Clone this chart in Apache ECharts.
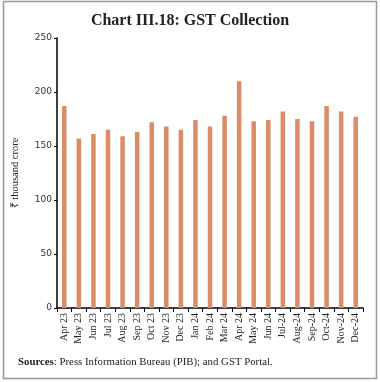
<!DOCTYPE html>
<html><head><meta charset="utf-8">
<script src="https://cdn.jsdelivr.net/npm/echarts@6/dist/echarts.min.js"></script>
<style>html,body{margin:0;padding:0;background:#fff}#c{width:380px;height:382px}</style>
</head><body><div id="c"></div>
<script>
var categories = ["Apr 23","May 23","Jun 23","Jul 23","Aug 23","Sep 23","Oct 23","Nov 23","Dec 23","Jan 24","Feb 24","Mar 24","Apr 24","May 24","Jun 24","Jul-24","Aug-24","Sep-24","Oct-24","Nov-24","Dec-24"];
var gstValues = [187,157,161,165,159,163,172,168,165,174,168,178,210,173,174,182,175,173,187,182,177];
var yTicks = [0,50,100,150,200,250];

var chart = echarts.init(document.getElementById('c'), null, {renderer:'canvas'});
chart.setOption({
  animation:false,
  title:{text:'Chart III.18: GST Collection',left:'center',top:8,
    textStyle:{fontFamily:'Liberation Serif',fontWeight:'bold',fontSize:16,color:'#222'}},
  grid:{left:57,right:17,top:38,bottom:74,containLabel:false},
  xAxis:{type:'category',data:categories,boundaryGap:true,
    axisLine:{lineStyle:{color:'#000',width:1.5}},
    axisTick:{show:true,alignWithLabel:false,length:4,lineStyle:{color:'#000'}},
    axisLabel:{rotate:90,interval:0,margin:5,fontFamily:'Liberation Serif',fontSize:10,color:'#222'}},
  yAxis:{type:'value',min:yTicks[0],max:yTicks[yTicks.length-1],interval:50,
    name:'₹ thousand crore',nameLocation:'middle',nameRotate:90,nameGap:36,
    nameTextStyle:{fontFamily:'Liberation Serif',fontSize:10.5,color:'#222'},
    axisLine:{show:true,lineStyle:{color:'#000',width:1.5}},
    axisTick:{show:true,length:3,lineStyle:{color:'#000'}},
    splitLine:{show:false},
    axisLabel:{margin:5,fontFamily:'DejaVu Sans',fontSize:9,color:'#333'}},
  series:[{type:'bar',data:gstValues,barWidth:4.5,itemStyle:{color:'#D98C66'}}],
  graphic:[
    {type:'rect',shape:{x:3.5,y:1.5,width:373,height:377},style:{fill:'none',stroke:'#999',lineWidth:1.5},z:-1},
    {type:'text',left:18,top:357,style:{rich:{b:{fontWeight:'bold',fontFamily:'Liberation Serif',fontSize:10.8,fill:'#222'},n:{fontFamily:'Liberation Serif',fontSize:10.8,fill:'#222'}},
      text:'{b|Sources}{n|: Press Information Bureau (PIB); and GST Portal.}'}}
  ]
});
</script></body></html>
